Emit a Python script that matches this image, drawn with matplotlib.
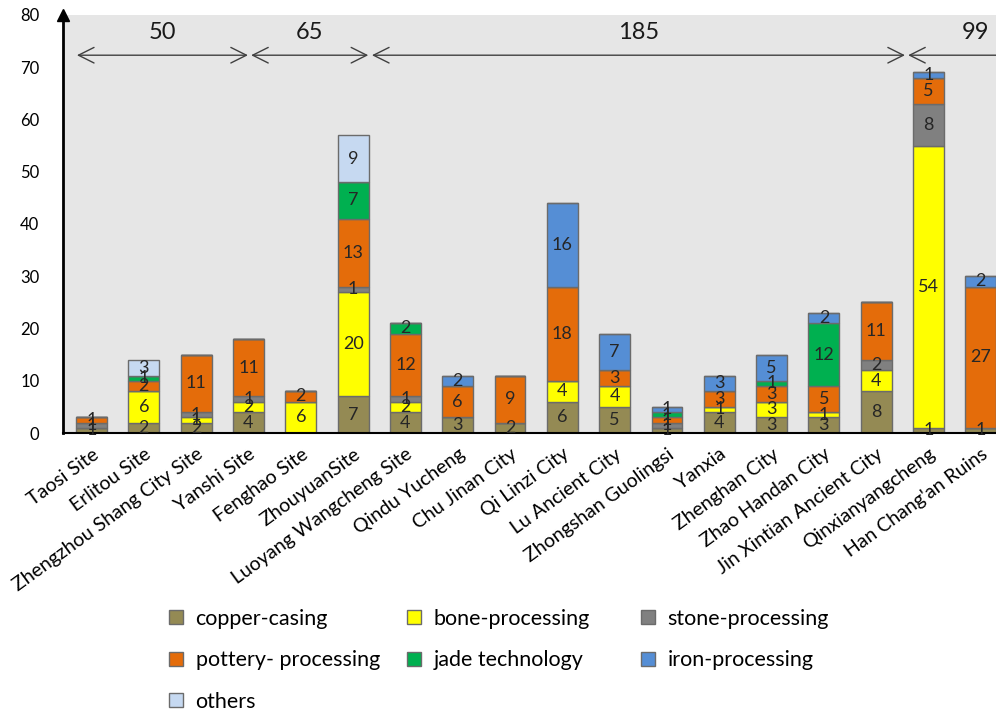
import matplotlib.pyplot as plt
import numpy as np

plt.rcParams['font.family'] = ['Lato', 'DejaVu Sans']

sites = ['Taosi Site', 'Erlitou Site', 'Zhengzhou Shang City Site', 'Yanshi Site',
         'Fenghao Site', 'ZhouyuanSite', 'Luoyang Wangcheng Site', 'Qindu Yucheng',
         'Chu Jinan City', 'Qi Linzi City', 'Lu Ancient City', 'Zhongshan Guolingsi',
         'Yanxia', 'Zhenghan City', 'Zhao Handan City', 'Jin Xintian Ancient City',
         'Qinxianyangcheng', "Han Chang'an Ruins"]

copper = [1, 2, 2, 4, 0, 7, 4, 3, 2, 6, 5, 1, 4, 3, 3, 8, 1, 1]
bone = [0, 6, 1, 2, 6, 20, 2, 0, 0, 4, 4, 0, 1, 3, 1, 4, 54, 0]
stone = [1, 0, 1, 1, 0, 1, 1, 0, 0, 0, 0, 1, 0, 0, 0, 2, 8, 0]
pottery = [1, 2, 11, 11, 2, 13, 12, 6, 9, 18, 3, 1, 3, 3, 5, 11, 5, 27]
jade = [0, 1, 0, 0, 0, 7, 2, 0, 0, 0, 0, 1, 0, 1, 12, 0, 0, 0]
iron = [0, 0, 0, 0, 0, 0, 0, 2, 0, 16, 7, 1, 3, 5, 2, 0, 1, 2]
others = [0, 3, 0, 0, 0, 9, 0, 0, 0, 0, 0, 0, 0, 0, 0, 0, 0, 0]

series = [
    ('copper-casing', copper, '#948a54'),
    ('bone-processing', bone, '#ffff00'),
    ('stone-processing', stone, '#808080'),
    ('pottery- processing', pottery, '#e46c0a'),
    ('jade technology', jade, '#00b050'),
    ('iron-processing', iron, '#558ed5'),
    ('others', others, '#c6d9f1'),
]

# period spans: (start, end, label)
periods = [(-0.28, 2.99, '50'), (3.05, 5.29, '65'), (5.36, 15.55, '185'), (15.61, 18.2, '99')]

fig = plt.figure(figsize=(9.96, 7.13), dpi=100)
ax = fig.add_axes([0.0633, 0.3927, 0.9367, 0.5863])
ax.set_facecolor('#e6e6e6')

x = np.arange(len(sites))
bottom = np.zeros(len(sites))
handles = {}
for name, vals, col in series:
    vals = np.array(vals, dtype=float)
    bars = ax.bar(x, vals, 0.59, bottom=bottom, color=col, edgecolor='#6b6b6b',
                  linewidth=1.0, label=name, zorder=2)
    handles[name] = bars
    for xi, v, b in zip(x, vals, bottom):
        if v > 0:
            ax.text(xi, b + v / 2, '%d' % v, ha='center', va='center',
                    fontsize=13, color='#262626', zorder=3)
    bottom += vals

for x0, x1, lab in periods:
    ax.annotate('', xy=(x0, 72.3), xytext=(x1, 72.3),
                arrowprops=dict(arrowstyle='<->', color='#404040', lw=1.0,
                                mutation_scale=28, shrinkA=0, shrinkB=0),
                annotation_clip=False)
    ax.text((x0 + x1) / 2, 76.6, lab, ha='center', va='center', fontsize=17, color='#1a1a1a')

ax.set_xlim(-0.545, 17.29)
ax.set_ylim(0, 80)
ax.set_yticks(range(0, 81, 10))
ax.tick_params(axis='y', length=0, pad=17, labelsize=12)
ax.tick_params(axis='x', length=0, pad=9, labelsize=14)
ax.set_xticks(x)
ax.set_xticklabels(sites, rotation=36, ha='right', rotation_mode='anchor')

for s in ['top', 'right']:
    ax.spines[s].set_visible(False)
ax.spines['left'].set_linewidth(2)
ax.spines['bottom'].set_linewidth(1.5)
ax.plot(0, 1, marker='^', color='black', markersize=9, transform=ax.transAxes, clip_on=False)

# legend laid out as three fixed-width columns
columns = [(['copper-casing', 'pottery- processing', 'others'], 0.170),
           (['bone-processing', 'jade technology'], 0.409),
           (['stone-processing', 'iron-processing'], 0.644)]
for names, xpos in columns:
    fig.legend([handles[n] for n in names], names, loc='upper left',
               bbox_to_anchor=(xpos, 0.146), frameon=False, fontsize=15.5,
               handlelength=0.62, handleheight=0.62, handletextpad=0.6,
               labelspacing=1.0, borderpad=0, borderaxespad=0)

fig.savefig('out.png', dpi=100)
